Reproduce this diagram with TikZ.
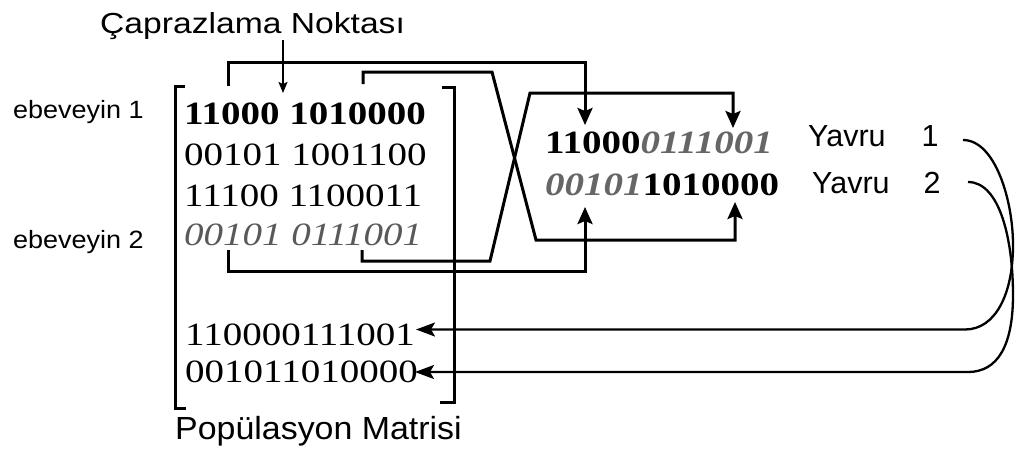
\documentclass[tikz,border=0pt]{standalone}
\usepackage{fontspec}
\usepackage{graphicx}
\setmainfont{Liberation Serif}
\newfontfamily\lsans{Liberation Sans}
\usetikzlibrary{arrows.meta}
\newcommand{\gsx}[1]{\scalebox{1.2}[1]{#1}}
\newcommand{\ital}[1]{{\bfseries\itshape\color{black!60}#1}}
\newcommand{\itall}[1]{{\itshape\color{black!65}#1}}
\tikzset{
  gene/.style={anchor=base west, inner sep=0pt, font=\fontsize{32.5}{36}\selectfont},
  lbl/.style={anchor=base west, inner sep=0pt},
  link/.style={line width=3pt, line join=miter, -{Stealth[length=17pt,width=15pt,inset=3pt]}},
  back/.style={line width=2.3pt, -{Stealth[length=19pt,width=14pt,inset=4pt]}},
  brack/.style={line width=3pt, line join=miter},
  pointer/.style={line width=1.5pt, -{Stealth[length=11pt,width=9pt,inset=2pt]}}
}
\begin{document}
\begin{tikzpicture}[x=1pt,y=-1pt]
\useasboundingbox (0,0) rectangle (1015,451);

% labels
\node[lbl] (title) at (100,33.3) {\lsans\fontsize{29}{34}\selectfont\scalebox{1.16}[1]{Çaprazlama Noktası}};
\node[lbl] (e1) at (13,118) {\lsans\fontsize{25}{30}\selectfont\scalebox{1.08}[1]{ebeveyin 1}};
\node[lbl] (e2) at (13,248.3) {\lsans\fontsize{25}{30}\selectfont\scalebox{1.08}[1]{ebeveyin 2}};
\node[lbl] (pm) at (175,439.3) {\lsans\fontsize{32}{36}\selectfont\scalebox{1.06}[1]{Popülasyon Matrisi}};
\node[lbl] (y1) at (808,146.7) {\lsans\fontsize{30.5}{34}\selectfont Yavru\hspace{36pt}1};
\node[lbl] (y2) at (812,193) {\lsans\fontsize{30.5}{34}\selectfont Yavru\hspace{34pt}2};

% population matrix rows
\node[gene] (r1) at (184,124) {\gsx{\bfseries 11000 1010000}};
\node[gene] (r2) at (184,165) {\gsx{00101 1001100}};
\node[gene] (r3) at (184,206) {\gsx{11100 1100011}};
\node[gene] (r4) at (184,245) {\gsx{\itall{00101 0111001}}};
\node[gene] (r5) at (185,345) {\gsx{110000111001}};
\node[gene] (r6) at (185,382.7) {\gsx{001011010000}};

% offspring
\node[gene] (o1) at (545,153.3) {\gsx{\bfseries 11000\ital{0111001}}};
\node[gene] (o2) at (545,195) {\gsx{\ital{00101}\bfseries 1010000}};

% brackets
\draw[brack] (185,86) -- (175,86) -- (175,408) -- (186,408);
\draw[brack] (442,87) -- (454,87) -- (454,402) -- (440,402);

% crossover point pointer
\coordinate (cp) at (283,40);
\coordinate (cpt) at (283,93);
\draw[pointer] (cp) -- (cpt);

% connector ends
\coordinate (p1a) at (228,86);
\coordinate (p1b) at (363,84);
\coordinate (p2a) at (228,250);
\coordinate (p2b) at (362,250);
\coordinate (t1a) at (585,125);
\coordinate (t1b) at (733,128);
\coordinate (t2a) at (585,207);
\coordinate (t2b) at (735,202);

\draw[link] (p1a) -- (228,62) -- (585,62) -- (t1a);
\draw[link] (p1b) -- (363,72) -- (492,72) -- (536,240) -- (735,240) -- (t2b);
\draw[link] (p2a) -- (228,271) -- (585,271) -- (t2a);
\draw[link] (p2b) -- (362,261) -- (490,261) -- (530,93) -- (733,93) -- (t1b);

% back to matrix
\coordinate (y1e) at (963,140);
\coordinate (y2e) at (968,182);
\coordinate (b1) at (416,329.5);
\coordinate (b2) at (415,372);
\draw[back] (y1e) .. controls (995,140) and (1013,200) .. (1013,245)
  .. controls (1013,295) and (995,329.5) .. (965,329.5) -- (b1);
\draw[back] (y2e) .. controls (1000,182) and (1013,240) .. (1013,295)
  .. controls (1013,345) and (998,372) .. (968,372) -- (b2);
\end{tikzpicture}
\end{document}
